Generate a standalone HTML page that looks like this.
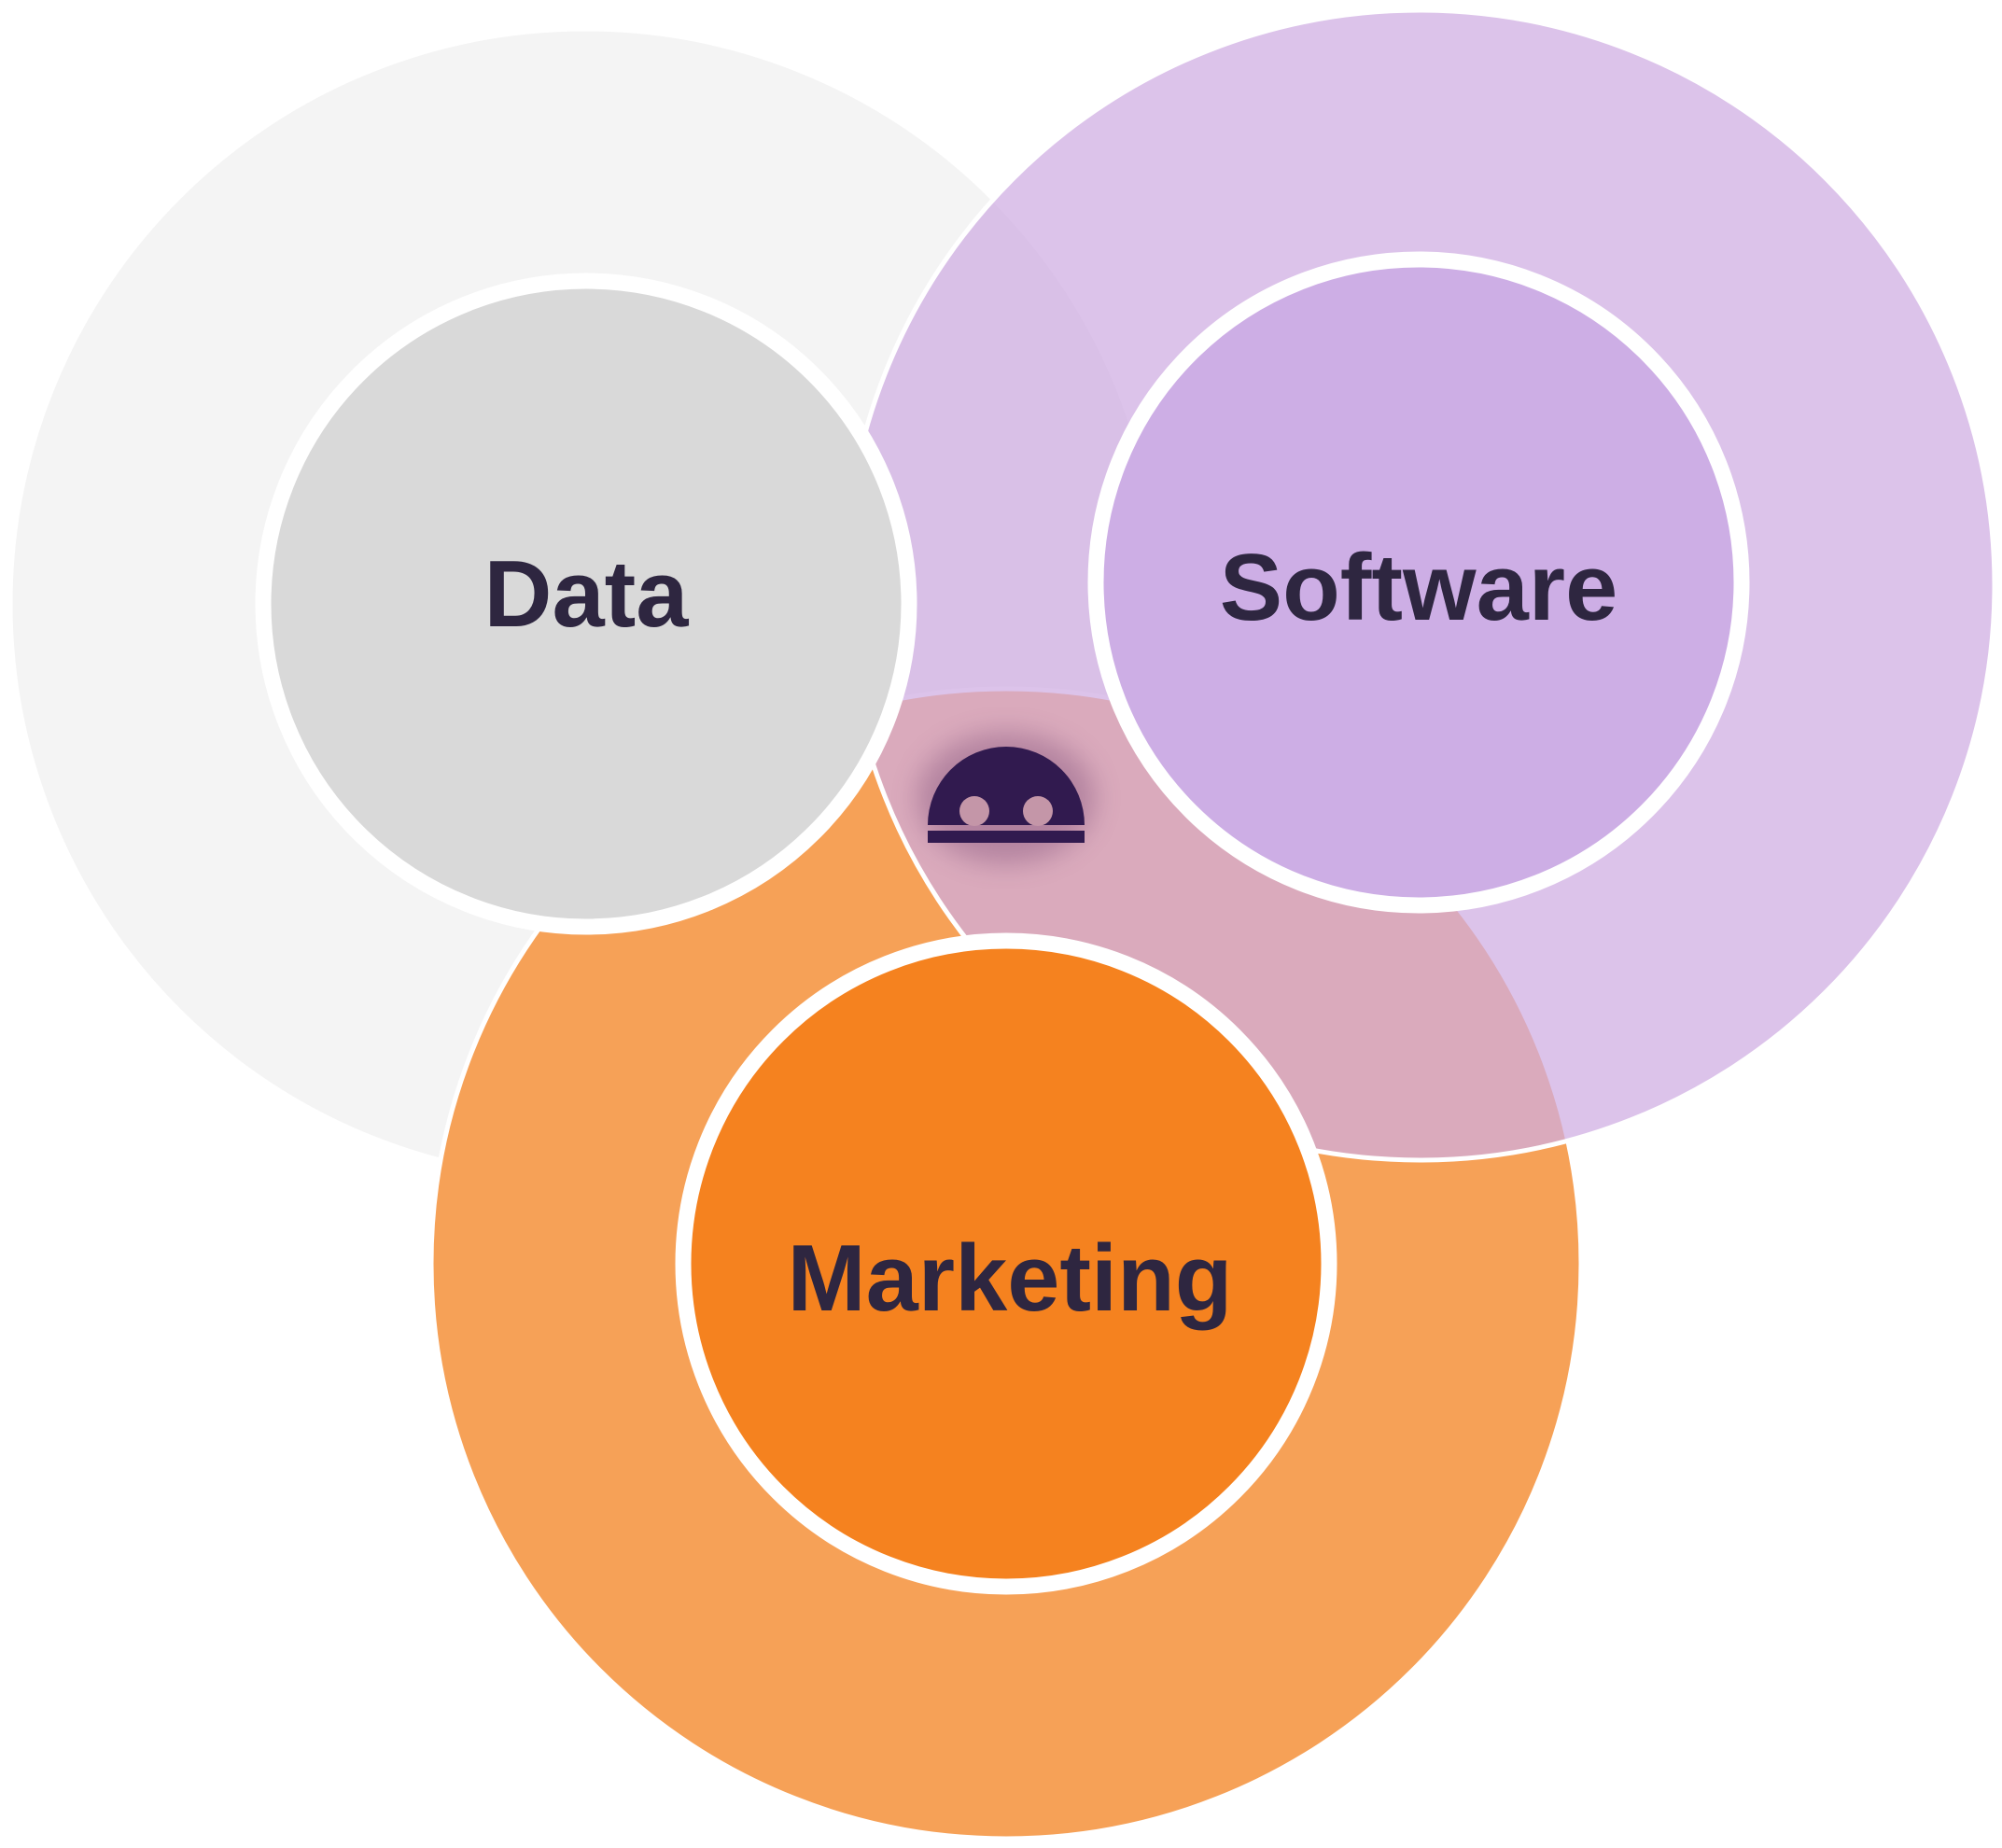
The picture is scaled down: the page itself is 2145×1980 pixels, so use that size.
<!DOCTYPE html>
<html><head><meta charset="utf-8"><style>
html,body{margin:0;padding:0;background:#fff;}
svg{display:block;}
text{font-family:"Liberation Sans",Arial,sans-serif;font-weight:bold;fill:#2e2640;text-anchor:middle;dominant-baseline:central;}
</style></head><body>
<svg width="2145" height="1980" viewBox="0 0 2145 1980" xmlns="http://www.w3.org/2000/svg">
<defs>
<filter id="glow" x="-50%" y="-50%" width="200%" height="200%"><feGaussianBlur stdDeviation="14"/></filter>
</defs>
<circle cx="627" cy="647" r="616" fill="#f4f4f4" stroke="#fff" stroke-width="5"/>
<circle cx="1078" cy="1354" r="616" fill="#f6a157" stroke="#fff" stroke-width="5"/>
<circle cx="1521" cy="627" r="616" fill="#cfade2" fill-opacity="0.73" stroke="#fff" stroke-width="5"/>
<circle cx="628" cy="647" r="346" fill="#d9d9d9" stroke="#fff" stroke-width="17"/>
<circle cx="1520" cy="624" r="346" fill="#cdaee5" stroke="#fff" stroke-width="17"/>
<circle cx="1078" cy="1354" r="346" fill="#f5821f" stroke="#fff" stroke-width="17"/>
<ellipse cx="1078" cy="855" rx="95" ry="70" fill="#6a3a6a" opacity="0.35" filter="url(#glow)"/>
<path d="M994 884 A84 84 0 0 1 1162 884 Z" fill="#311a4f"/>
<rect x="994" y="890" width="168" height="13" fill="#311a4f"/>
<circle cx="1044" cy="869" r="16" fill="#c496a8"/>
<circle cx="1112" cy="869" r="16" fill="#c496a8"/>
<text x="628" y="637" font-size="101">Data</text>
<text x="1520" y="630" font-size="101">Software</text>
<text x="1082" y="1370" font-size="101">Marketing</text>
</svg>
</body></html>
